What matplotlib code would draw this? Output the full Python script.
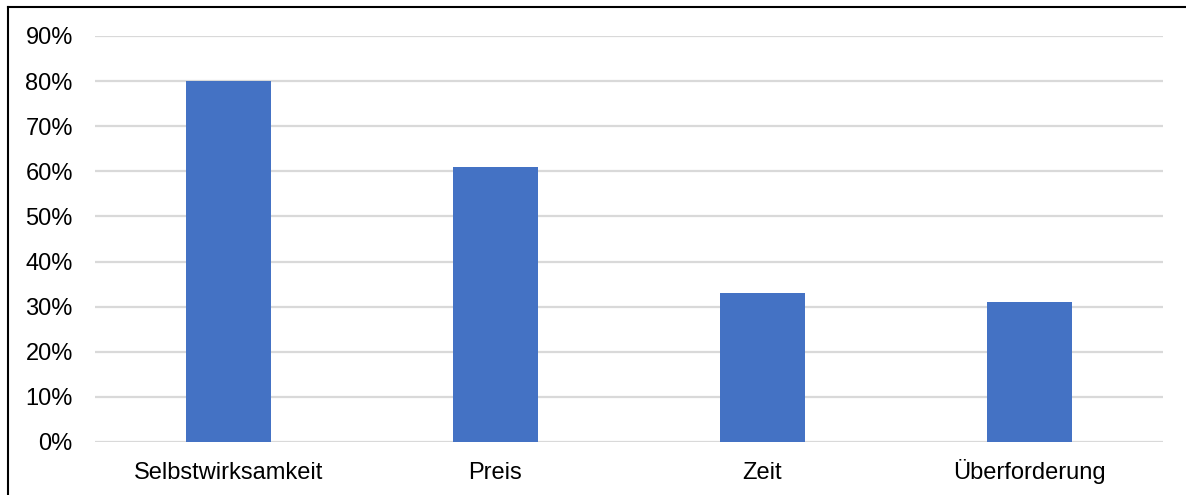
import matplotlib.pyplot as plt
from matplotlib.lines import Line2D
from matplotlib.ticker import PercentFormatter

plt.rcParams["font.family"] = ["Liberation Sans", "DejaVu Sans"]

categories = ["Selbstwirksamkeit", "Preis", "Zeit", "Überforderung"]
shares = [80, 61, 33, 31]

W, H = 1186, 495
fig = plt.figure(figsize=(W / 100, H / 100), dpi=100)
ax_h = 442 - 36
ax = fig.add_axes([95 / W, 1 - 442 / H, (1163 - 95) / W, ax_h / H])

ax.bar(range(len(categories)), shares, width=0.315, color="#4472c4", zorder=2)

ax.set_xlim(-0.5, len(categories) - 0.5)
ax.set_ylim(0, 90)
ax.set_yticks(range(0, 91, 10))
ax.yaxis.set_major_formatter(PercentFormatter(decimals=0))
ax.set_xticks(range(len(categories)))
ax.set_xticklabels([])

# category labels share one baseline (Ü would otherwise push its label down)
for i, name in enumerate(categories):
    ax.text(i, -37 / ax_h, name, transform=ax.get_xaxis_transform(),
            ha="center", va="baseline", fontsize=17)

ax.grid(axis="y", color="#d9d9d9", linewidth=1.6, zorder=0)
ax.set_axisbelow(True)
for s in ax.spines.values():
    s.set_visible(False)
ax.tick_params(axis="both", length=0, labelsize=17, colors="black")
ax.tick_params(axis="y", pad=16)

# outer frame (left and top edges only visible)
fig.add_artist(Line2D([8 / W, 8 / W], [0, 1 - 7 / H], transform=fig.transFigure,
                      color="black", linewidth=1.5))
fig.add_artist(Line2D([8 / W, 1], [1 - 7 / H, 1 - 7 / H], transform=fig.transFigure,
                      color="black", linewidth=1.5))

fig.savefig("out.png", dpi=100)
